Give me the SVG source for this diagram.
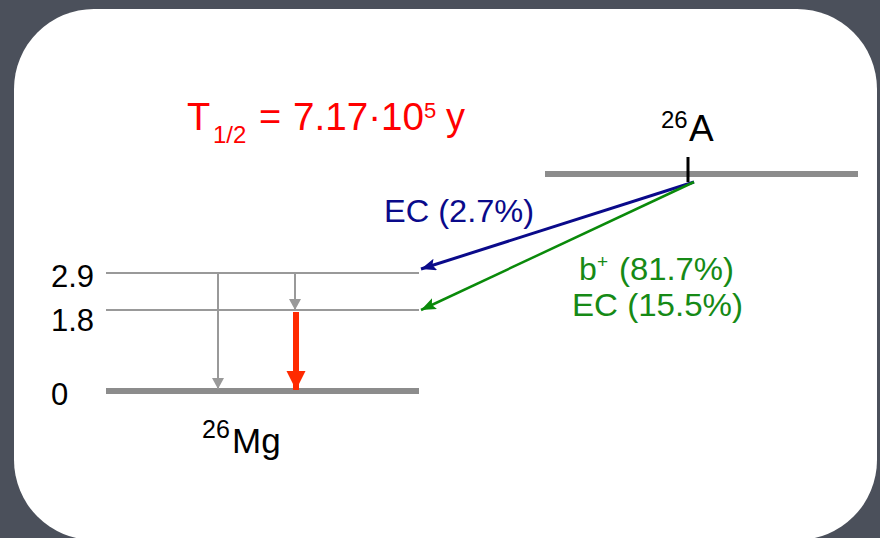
<svg xmlns="http://www.w3.org/2000/svg" width="880" height="538" viewBox="0 0 880 538">
<style>
text{font-family:"Liberation Sans",Arial,sans-serif}
.lvl{stroke:#999;stroke-width:2;fill:none}
.lvlb{stroke:#8c8c8c;stroke-width:6;fill:none}
.lab{font-size:31px;fill:#000}
.red{fill:#ff0000}
.grn{fill:#168a16;font-size:32px}
</style>
<defs>
<marker id="ag" markerUnits="userSpaceOnUse" markerWidth="12" markerHeight="12" refX="11" refY="6" orient="auto"><path d="M0,0 L11,6 L0,12 Z" fill="#999"/></marker>
<marker id="ar" markerUnits="userSpaceOnUse" markerWidth="20" markerHeight="20" refX="19" refY="9.5" orient="auto"><path d="M0,0 L19,9.5 L0,19 Z" fill="#ff2a00"/></marker>
<marker id="ab" markerUnits="userSpaceOnUse" markerWidth="16" markerHeight="12" refX="15" refY="6" orient="auto"><path d="M0,0 L15,6 L0,12 L3,6 Z" fill="#0a0a8a"/></marker>
<marker id="agr" markerUnits="userSpaceOnUse" markerWidth="16" markerHeight="12" refX="15" refY="6" orient="auto"><path d="M0,0 L15,6 L0,12 L3,6 Z" fill="#0a8a0a"/></marker>
</defs>
<rect width="880" height="538" fill="#4b505b"/>
<rect x="14" y="9" width="863" height="531" rx="80" ry="80" fill="#fff"/>

<g id="title">
<text x="187" y="130" font-size="38" class="red">T</text>
<text x="213" y="143" font-size="24" class="red">1/2</text>
<text x="259" y="130" font-size="38" class="red">=</text>
<text x="293" y="130" font-size="38" class="red" textLength="131" lengthAdjust="spacingAndGlyphs">7.17·10</text>
<text x="424" y="118" font-size="22" class="red">5</text>
<text x="446" y="130" font-size="38" class="red">y</text>
</g>

<g id="parent">
<line x1="545" y1="174" x2="858" y2="174" class="lvlb"/>
<line x1="688" y1="157" x2="688" y2="182" stroke="#000" stroke-width="3"/>
<text x="661" y="128" font-size="24">26</text>
<text x="689" y="141" font-size="37">A</text>
</g>

<g id="daughter">
<line x1="106" y1="273" x2="419" y2="273" class="lvl"/>
<line x1="106" y1="310" x2="419" y2="310" class="lvl"/>
<line x1="106" y1="391" x2="419" y2="391" class="lvlb"/>
<text x="51" y="287" class="lab">2.9</text>
<text x="51" y="331" class="lab">1.8</text>
<text x="51" y="405" class="lab">0</text>
<text x="202" y="438" font-size="25">26</text>
<text x="232" y="453" font-size="35">Mg</text>
</g>

<g id="connectors">
<line x1="218" y1="273" x2="218" y2="389" stroke="#999" stroke-width="2" marker-end="url(#ag)"/>
<line x1="295" y1="273" x2="295" y2="310" stroke="#999" stroke-width="2" marker-end="url(#ag)"/>
<line x1="296" y1="312" x2="296" y2="390" stroke="#ff2a00" stroke-width="6" marker-end="url(#ar)"/>
<line x1="694" y1="182" x2="421" y2="269" stroke="#0a0a8a" stroke-width="3" marker-end="url(#ab)"/>
<line x1="694" y1="182" x2="421" y2="310" stroke="#0a8a0a" stroke-width="2.5" marker-end="url(#agr)"/>
</g>

<g id="labels">
<text x="384" y="222" font-size="32" fill="#0a0a8a" textLength="150" lengthAdjust="spacingAndGlyphs">EC (2.7%)</text>
<text x="579" y="280" class="grn">b</text>
<text x="597" y="268" class="grn" style="font-size:19px">+</text>
<text x="619" y="280" class="grn" textLength="115" lengthAdjust="spacingAndGlyphs">(81.7%)</text>
<text x="572" y="316" class="grn" textLength="171" lengthAdjust="spacingAndGlyphs">EC (15.5%)</text>
</g>
</svg>
